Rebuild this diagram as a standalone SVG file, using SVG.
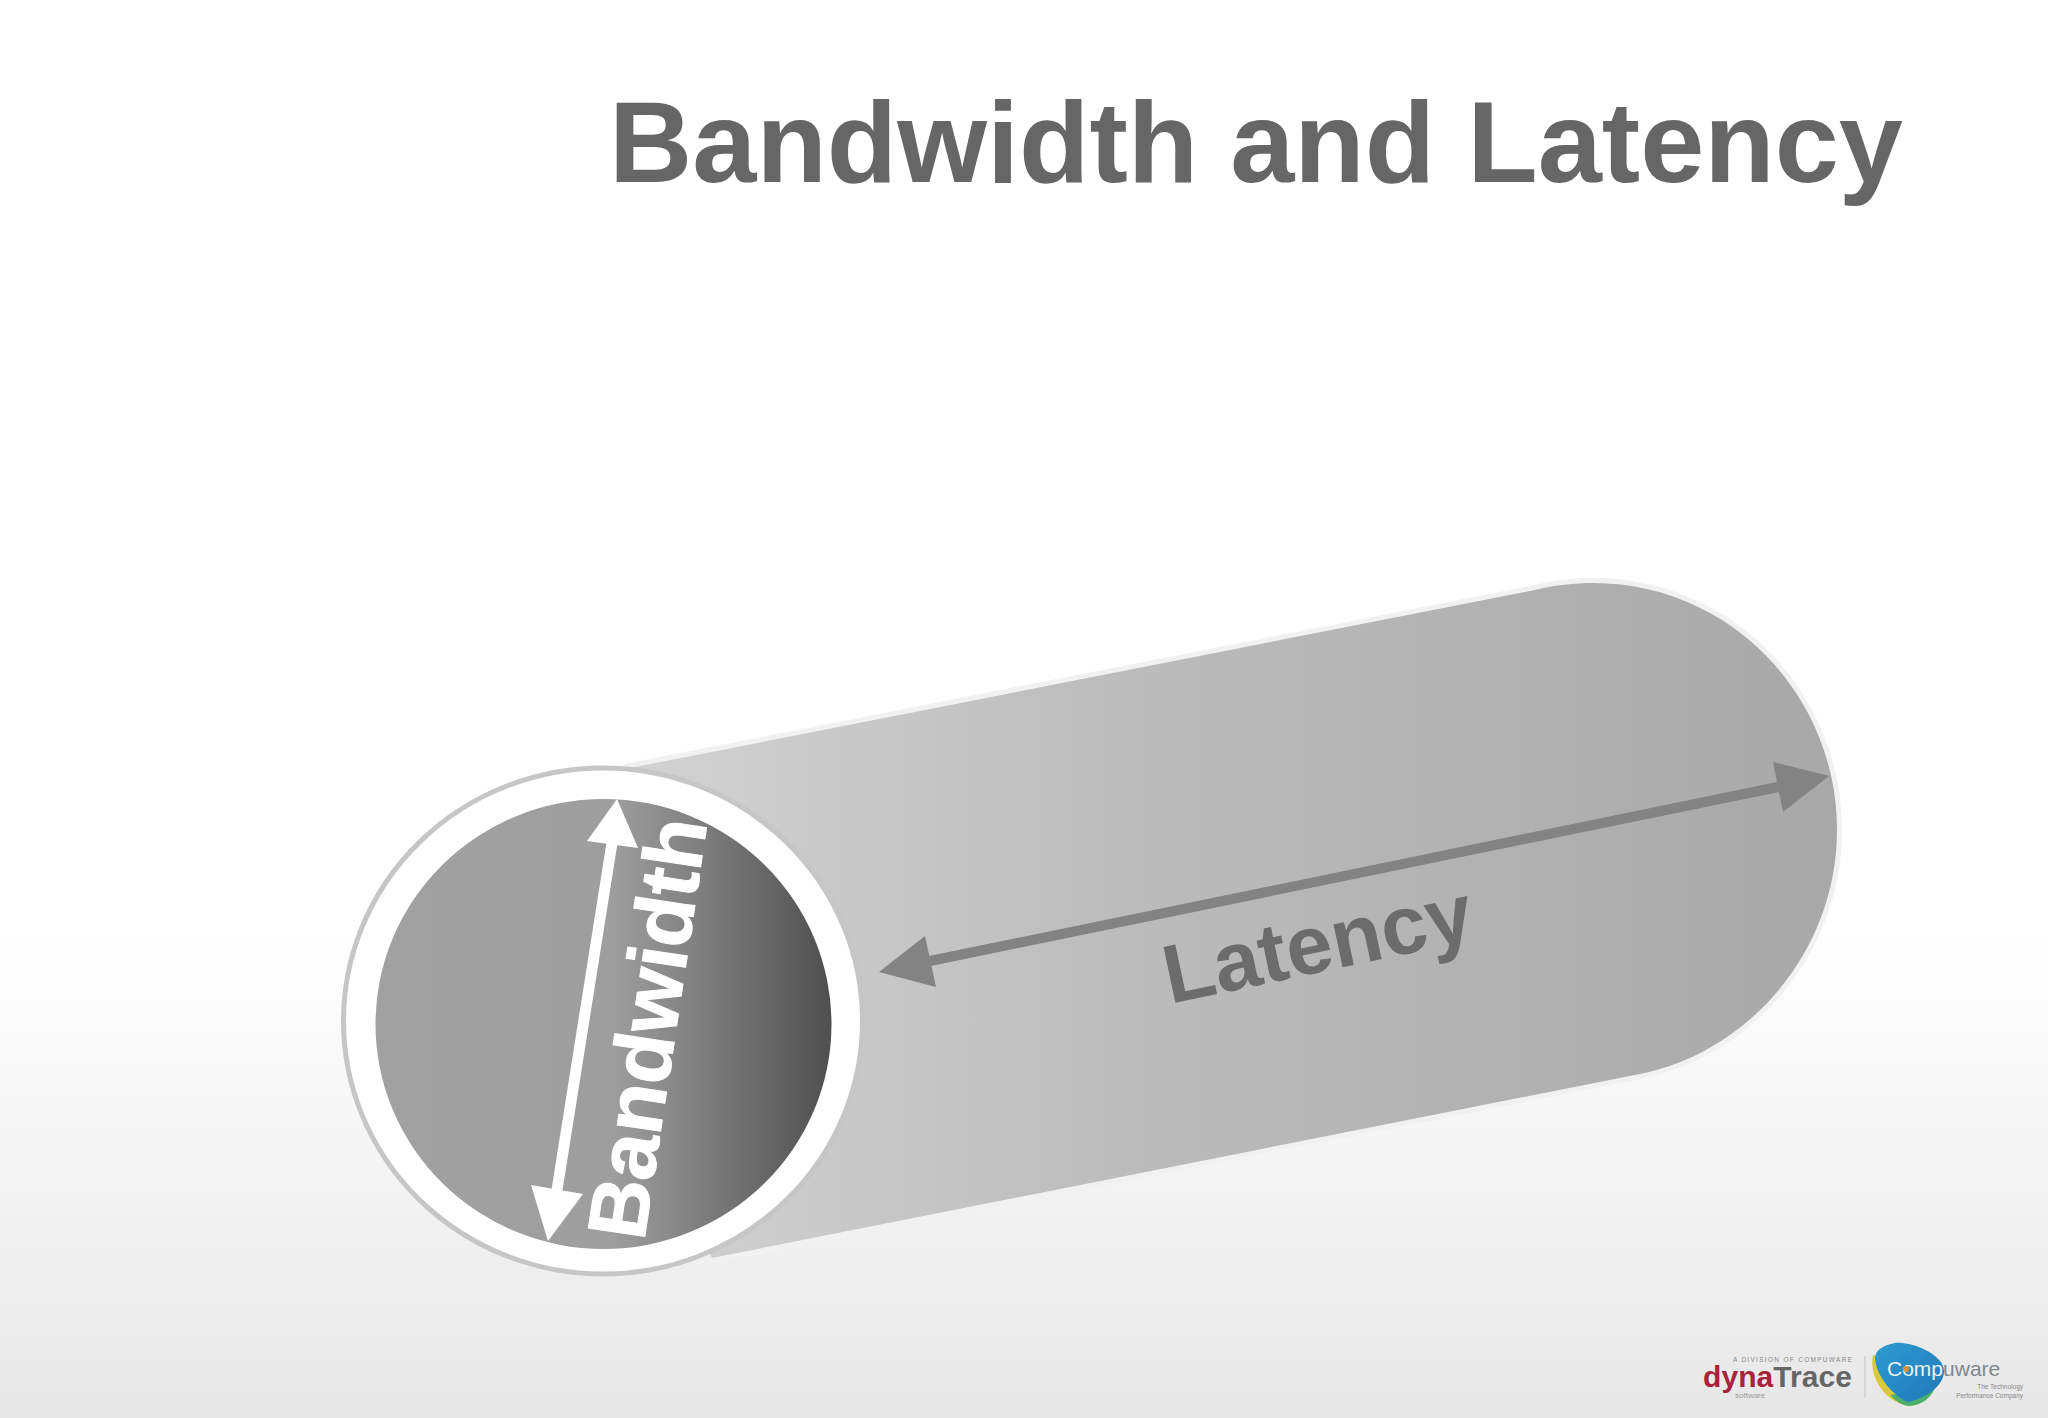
<svg xmlns="http://www.w3.org/2000/svg" width="2048" height="1418" viewBox="0 0 2048 1418">
<defs>
<linearGradient id="bg" x1="0" y1="0" x2="0" y2="1"><stop offset="0" stop-color="#ffffff"/><stop offset="0.66" stop-color="#ffffff"/><stop offset="0.85" stop-color="#f2f2f2"/><stop offset="1" stop-color="#e7e7e7"/></linearGradient>
<linearGradient id="cyl" gradientUnits="userSpaceOnUse" x1="640" y1="0" x2="1840" y2="0"><stop offset="0" stop-color="#d2d2d2"/><stop offset="0.4" stop-color="#bcbcbc"/><stop offset="1" stop-color="#a8a8a8"/></linearGradient>
<linearGradient id="hole" gradientUnits="userSpaceOnUse" x1="375" y1="0" x2="832" y2="0"><stop offset="0" stop-color="#a1a1a1"/><stop offset="0.52" stop-color="#9e9e9e"/><stop offset="1" stop-color="#4f4f4f"/></linearGradient>
<linearGradient id="blob" x1="0" y1="0" x2="1" y2="1"><stop offset="0" stop-color="#2f9bd0"/><stop offset="1" stop-color="#1f78b8"/></linearGradient>
</defs>
<style>
text{font-family:"Liberation Sans",Arial,sans-serif}
.b{font-weight:700}
.tiny{font-size:6.5px;fill:#888888}
</style>
<rect id="background" width="2048" height="1418" fill="url(#bg)"/>
<g id="title"><text class="b" x="609" y="182" font-size="115.300" fill="#666666">Bandwidth and Latency</text></g>
<g id="cylinder">
<path d="M630 768L1535 590C1555 585 1575 583 1593 583C1730 583 1837 695 1837 830C1837 950 1750 1052 1640 1074L712 1258Z" fill="none" stroke="#f1f1f1" stroke-width="10"/>
<path d="M630 768L1535 590C1555 585 1575 583 1593 583C1730 583 1837 695 1837 830C1837 950 1750 1052 1640 1074L712 1258L630 1100Z" fill="url(#cyl)"/>
<ellipse cx="603" cy="1021" rx="259.500" ry="253" fill="#ffffff" stroke="#c6c6c6" stroke-width="5"/>
<ellipse cx="603.500" cy="1024" rx="228" ry="225" fill="url(#hole)"/>
</g>
<g id="connectors">
<g id="bandwidth-arrow" fill="#ffffff"><path d="M612 843L557 1190" stroke="#ffffff" stroke-width="11" fill="none"/><polygon points="617,799 587,841 638,848"/><polygon points="548,1241 531,1185 583,1194"/></g>
<g id="latency-arrow" fill="#838383"><path d="M930 961L1778 787" stroke="#838383" stroke-width="10" fill="none"/><polygon points="1829,776 1773,762 1783,812"/><polygon points="879,972 925,936 936,987"/></g>
</g>
<g id="bandwidth-label"><text class="b" transform="translate(644 1242) rotate(-81.4)" font-size="83" fill="#ffffff" stroke="#ffffff" stroke-width="1">Bandwidth</text></g>
<g id="latency-label"><text class="b" transform="translate(1170 1004) rotate(-12)" font-size="83" fill="#6c6c6c">Latency</text></g>
<g id="logos">
<text class="tiny" x="1733" y="1362" textLength="119">A DIVISION OF COMPUWARE</text>
<text class="b" x="1703" y="1387" font-size="30" textLength="149"><tspan fill="#a8233a">dyna</tspan><tspan fill="#666666">Trace</tspan></text>
<text x="1735" y="1398" font-size="8" fill="#999999">software</text>
<path d="M1865 1356V1398" stroke="#c4c4c4" stroke-width="1"/>
<path d="M1873 1355C1869 1372 1880 1400 1908 1406C1925 1406 1934 1390 1932 1375Z" fill="#d9c93c"/>
<path d="M1890 1395C1897 1402 1903 1406 1910 1406C1922 1405 1930 1398 1934 1390Z" fill="#4caf6e"/>
<path d="M1895 1343C1914 1341 1944 1356 1944 1371C1944 1386 1926 1398 1908 1402C1893 1396 1876 1376 1875 1358C1875 1350 1884 1345 1895 1343Z" fill="url(#blob)"/>
<text x="1887" y="1376" font-size="21" fill="#e8f2f7">Comp<tspan fill="#808890">uware</tspan></text>
<circle cx="1906" cy="1369" r="3" fill="#d9923c"/>
<text class="tiny" x="2023" y="1389" text-anchor="end">The Technology</text>
<text class="tiny" x="2023" y="1398" text-anchor="end">Performance Company</text>
</g>
</svg>
